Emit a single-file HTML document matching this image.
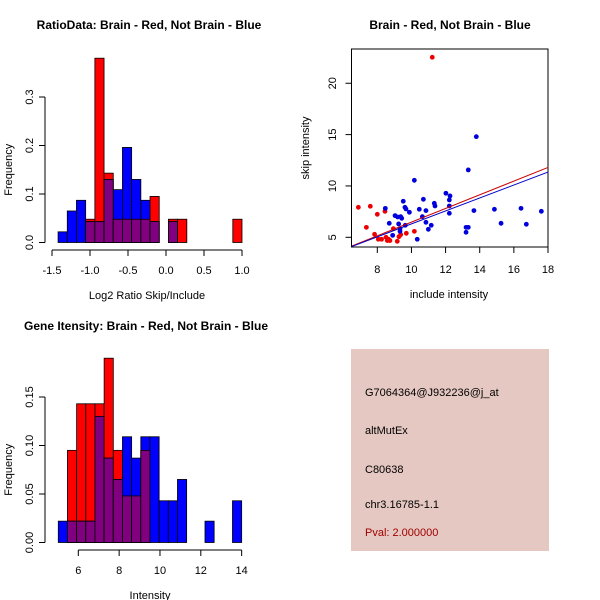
<!DOCTYPE html>
<html><head><meta charset="utf-8"><style>body{margin:0;background:#fff}svg{display:block;font-family:"Liberation Sans",sans-serif}</style></head>
<body>
<svg id="s" width="600" height="600" viewBox="0 0 600 600" xmlns="http://www.w3.org/2000/svg">
<rect width="600" height="600" fill="#fff"/>
<text x="149" y="29" font-size="12" font-weight="bold" text-anchor="middle">RatioData: Brain - Red, Not Brain - Blue</text>
<text x="450" y="29" font-size="12" font-weight="bold" text-anchor="middle">Brain - Red, Not Brain - Blue</text>
<text x="146" y="330" font-size="12" font-weight="bold" text-anchor="middle">Gene Itensity: Brain - Red, Not Brain - Blue</text>
<g id="g1"></g>
<g id="g2"></g>
<g id="g3"></g>
<g>
<rect x="351" y="349" width="198" height="202" fill="#e6c8c2"/>
<text x="365" y="396" font-size="11">G7064364@J932236@j_at</text>
<text x="365" y="434" font-size="11">altMutEx</text>
<text x="365" y="473" font-size="11">C80638</text>
<text x="365" y="508" font-size="11">chr3.16785-1.1</text>
<text x="365" y="536" font-size="11" fill="#a00000">Pval: 2.000000</text>
</g>
</svg>
<script>
// Ratio histogram data
const ratioBinStart = -1.42, ratioBinWidth = 0.121;
const ratioRed  = [0,0,0,0.048,0.38,0.143,0.048,0.048,0.048,0.048,0.095,0,0.048,0.048,0,0,0,0,0,0.048];
const ratioBlue = [0.022,0.065,0.087,0.043,0.043,0.13,0.109,0.196,0.13,0.087,0.043,0,0.043,0,0,0,0,0,0,0];
const ratioXTicks = [-1.5,-1.0,-0.5,0.0,0.5,1.0];
const ratioXLabels = ["-1.5","-1.0","-0.5","0.0","0.5","1.0"];
const ratioYTicks = [0,0.1,0.2,0.3];
const ratioYLabels = ["0.0","0.1","0.2","0.3"];
// Intensity histogram data
const intBinStart = 5.02, intBinWidth = 0.449;
const intRed  = [0,0.095,0.143,0.143,0.143,0.19,0.095,0.048,0.048,0.095,0,0,0,0,0,0,0,0,0,0];
const intBlue = [0.022,0.022,0.022,0.022,0.13,0.087,0.065,0.109,0.087,0.109,0.109,0.043,0.043,0.065,0,0,0.022,0,0,0.043];
const intXTicks = [6,8,10,12,14];
const intXLabels = ["6","8","10","12","14"];
const intYTicks = [0,0.05,0.10,0.15];
const intYLabels = ["0.00","0.05","0.10","0.15"];
// Scatter data
const redX = [6.89,7.59,8.0,7.36,7.84,8.06,8.25,8.45,8.51,8.59,8.66,8.74,8.94,9.17,9.27,9.37,9.7,10.17,11.22];
const redY = [7.92,8.02,7.24,5.97,5.29,4.81,4.81,7.53,5.0,4.68,4.81,4.68,5.84,4.61,5.06,5.26,5.39,5.58,22.53];
const blueX = [8.47,8.7,8.9,9.04,9.19,9.25,9.33,9.37,9.43,9.33,9.52,9.62,9.68,9.64,9.88,10.17,10.34,10.46,10.64,10.7,10.85,10.85,10.99,11.16,11.34,11.38,12.02,12.22,12.26,12.22,12.22,13.2,13.33,13.2,13.33,13.66,13.8,14.86,15.25,16.42,16.73,17.61];
const blueY = [7.82,6.36,5.19,7.11,6.98,6.3,5.84,7.01,6.85,5.58,8.51,7.92,7.76,6.17,7.44,10.55,4.81,7.73,7.01,8.7,7.6,6.46,5.78,6.17,8.31,8.05,9.29,8.64,9.03,8.05,7.34,5.97,5.97,5.49,11.56,7.6,14.8,7.73,6.36,7.82,6.27,7.53];
const redFit = [4.15, 11.8];   // y at x=6.5 and x=18
const blueFit = [4.1, 11.35];
const scXTicks = [8,10,12,14,16,18];
const scYTicks = [5,10,15,20];

const NS="http://www.w3.org/2000/svg";
function mk(parent,tag,attrs){const e=document.createElementNS(NS,tag);for(const k in attrs)e.setAttribute(k,attrs[k]);parent.appendChild(e);return e;}

function hist(g,o){
  const sx=v=>o.x0+(v-o.xa)*o.kx, sy=v=>o.y0-v*o.ky;
  for(let i=0;i<o.red.length;i++){
    const a=o.start+i*o.w,b=a+o.w;
    const r=o.red[i],bl=o.blue[i],m=Math.min(r,bl);
    if(r>0){const e=mk(g,'rect',{x:sx(a),y:sy(r),width:sx(b)-sx(a),height:sy(0)-sy(r),fill:'#ff0000',stroke:'#000','stroke-width':0.8});
      }
    if(bl>0){const e=mk(g,'rect',{x:sx(a),y:sy(bl),width:sx(b)-sx(a),height:sy(0)-sy(bl),fill:'#0000ff',stroke:'#000','stroke-width':0.8});
      }
    if(m>0){const e=mk(g,'rect',{x:sx(a),y:sy(m),width:sx(b)-sx(a),height:sy(0)-sy(m),fill:'#800080',stroke:'#000','stroke-width':0.8});
      }
  }
  const ax=mk(g,'line',{x1:sx(o.xt[0]),x2:sx(o.xt[o.xt.length-1]),y1:o.axY,y2:o.axY,stroke:'#000'});
  
  o.xt.forEach((t,i)=>{mk(g,'line',{x1:sx(t),x2:sx(t),y1:o.axY,y2:o.axY+6,stroke:'#000'});
    const e=mk(g,'text',{x:sx(t),y:o.axY+24,'font-size':11,'text-anchor':'middle'});e.textContent=o.xl[i];
    });
  const ay=mk(g,'line',{x1:o.axX,x2:o.axX,y1:sy(o.yt[0]),y2:sy(o.yt[o.yt.length-1]),stroke:'#000'});
  
  o.yt.forEach((t,i)=>{mk(g,'line',{x1:o.axX-6,x2:o.axX,y1:sy(t),y2:sy(t),stroke:'#000'});
    const e=mk(g,'text',{x:o.axX-12,y:sy(t),'font-size':11,'text-anchor':'middle',transform:`rotate(-90 ${o.axX-12} ${sy(t)})`});e.textContent=o.yl[i];
    });
  const xt=mk(g,'text',{x:o.xTitleX,y:o.axY+49,'font-size':11,'text-anchor':'middle'});xt.textContent=o.xTitle;
  
  const yc=(sy(0)+sy(o.yt[o.yt.length-1]))/2;
  const yt=mk(g,'text',{x:12,y:yc,'font-size':11,'text-anchor':'middle',transform:`rotate(-90 12 ${yc})`});yt.textContent='Frequency';
  
}
hist(document.getElementById('g1'),{red:ratioRed,blue:ratioBlue,start:ratioBinStart,w:ratioBinWidth,xa:-1.5,x0:52,kx:76,y0:242.5,ky:485,axY:250,axX:45,xt:ratioXTicks,xl:ratioXLabels,yt:ratioYTicks,yl:ratioYLabels,xTitle:'Log2 Ratio Skip/Include',xTitleX:147});
hist(document.getElementById('g3'),{red:intRed,blue:intBlue,start:intBinStart,w:intBinWidth,xa:6,x0:78.3,kx:20.42,y0:542.5,ky:970,axY:550,axX:45,xt:intXTicks,xl:intXLabels,yt:intYTicks,yl:intYLabels,xTitle:'Intensity',xTitleX:150});

(function(){
  const g=document.getElementById('g2');
  const sx=v=>377.3+(v-8)*17.07, sy=v=>237.3-(v-5)*10.27;
  const box=mk(g,'rect',{x:351.5,y:49,width:196.5,height:198,fill:'none',stroke:'#000'});
  
  scXTicks.forEach(t=>{mk(g,'line',{x1:sx(t),x2:sx(t),y1:247,y2:253,stroke:'#000'});
    const e=mk(g,'text',{x:sx(t),y:273,'font-size':11,'text-anchor':'middle'});e.textContent=String(t);
    });
  scYTicks.forEach(t=>{mk(g,'line',{x1:345.5,x2:351.5,y1:sy(t),y2:sy(t),stroke:'#000'});
    const e=mk(g,'text',{x:336,y:sy(t),'font-size':11,'text-anchor':'middle',transform:`rotate(-90 336 ${sy(t)})`});e.textContent=String(t);
    });
  const xt=mk(g,'text',{x:449,y:298,'font-size':11,'text-anchor':'middle'});xt.textContent='include intensity';
  
  const yt=mk(g,'text',{x:309,y:148,'font-size':11,'text-anchor':'middle',transform:'rotate(-90 309 148)'});yt.textContent='skip intensity';
  
  redX.forEach((x,i)=>{const c=mk(g,'circle',{cx:sx(x),cy:sy(redY[i]),r:2.4,fill:'#ee0000'});
    });
  blueX.forEach((x,i)=>{const c=mk(g,'circle',{cx:sx(x),cy:sy(blueY[i]),r:2.4,fill:'#0000dd'});
    });
  const l1=mk(g,'line',{x1:sx(6.5),y1:sy(redFit[0]),x2:sx(18),y2:sy(redFit[1]),stroke:'#cc0000','stroke-width':1});
  
  const l2=mk(g,'line',{x1:sx(6.5),y1:sy(blueFit[0]),x2:sx(18),y2:sy(blueFit[1]),stroke:'#0000cc','stroke-width':1});
  
})();
</script>
</body></html>
